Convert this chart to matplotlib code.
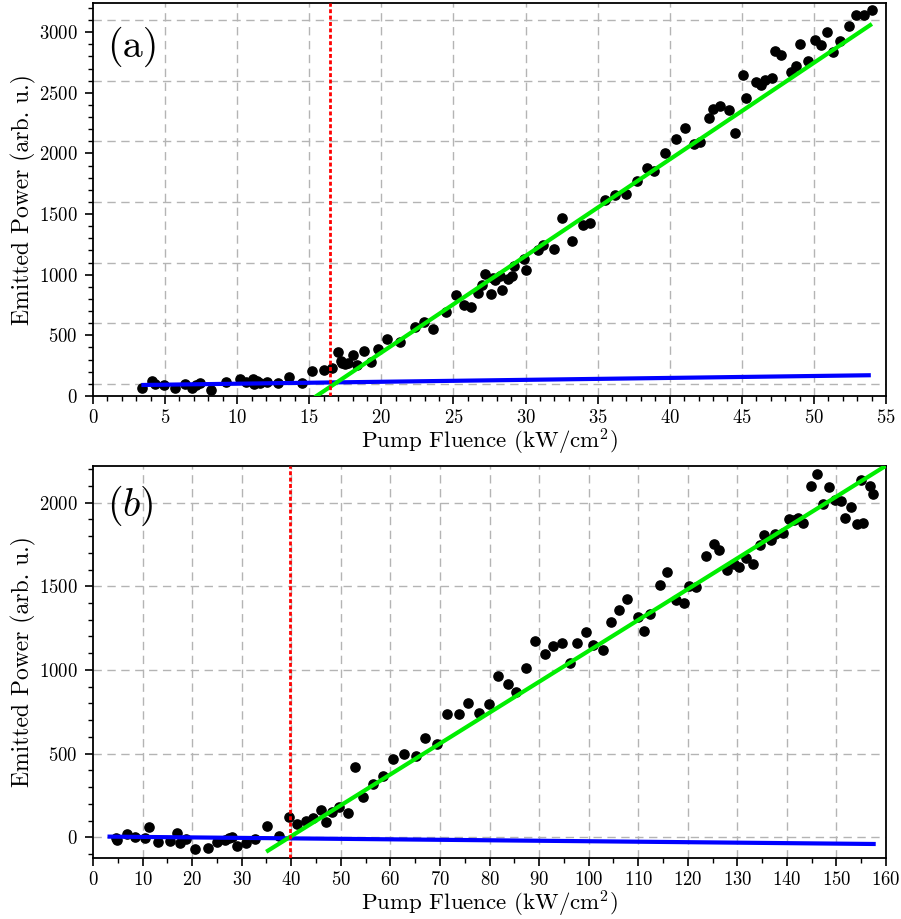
import matplotlib
matplotlib.use('Agg')
import matplotlib.pyplot as plt
from matplotlib.ticker import MultipleLocator

plt.rcParams['font.family'] = 'serif'
plt.rcParams['font.serif'] = ['cmr10']
plt.rcParams['mathtext.fontset'] = 'cm'
plt.rcParams['axes.formatter.use_mathtext'] = True

# panel (a) measured points
a_x = [3.4, 4.1, 4.3, 4.9, 5.7, 6.4, 6.9, 7.15, 7.4, 8.2,
       9.2, 10.2, 10.6, 11.1, 11.2, 11.4, 11.6, 12.1, 12.85, 13.6,
       14.5, 15.2, 16.0, 16.6, 17.0, 17.2, 17.3, 17.5, 17.7, 18.0,
       18.3, 18.8, 19.3, 19.8, 20.4, 21.3, 22.3, 22.95, 23.6, 24.5,
       25.2, 25.7, 26.2, 26.7, 27.0, 27.2, 27.6, 27.75, 27.9, 28.2,
       28.35, 28.8, 29.05, 29.2, 29.9, 30.05, 30.85, 31.2, 32.0, 32.5,
       33.2, 33.95, 34.5, 35.5, 36.2, 37.0, 37.7, 38.45, 38.9, 39.7,
       40.4, 41.05, 41.7, 42.1, 42.75, 43.0, 43.5, 44.1, 44.5, 45.1,
       45.3, 46.0, 46.3, 46.6, 47.1, 47.3, 47.7, 48.4, 48.75, 49.0,
       49.6, 50.05, 50.5, 50.9, 51.3, 51.8, 52.4, 52.9, 53.5, 54.0]
a_y = [66, 123, 96, 90, 66, 99, 66, 90, 107, 49,
       118, 137, 118, 140, 96, 123, 104, 115, 107, 156,
       104, 203, 214, 233, 359, 290, 268, 263, 274, 337,
       252, 375, 277, 386, 466, 444, 567, 614, 553, 696,
       830, 753, 734, 852, 912, 1002, 838, 975, 959, 989,
       873, 961, 989, 1074, 1126, 1038, 1202, 1247, 1214, 1466,
       1274, 1411, 1424, 1616, 1660, 1665, 1775, 1876, 1852, 2003,
       2118, 2206, 2076, 2095, 2292, 2364, 2391, 2361, 2169, 2649,
       2455, 2588, 2564, 2602, 2624, 2843, 2810, 2670, 2720, 2906,
       2761, 2936, 2895, 3002, 2835, 2931, 3049, 3142, 3139, 3183]

# panel (a) fits and threshold
a_below_x = [3.5, 53.8]
a_below_y = [91, 171]
a_above_x = [15.5, 53.9]
a_above_y = [0, 3058]
a_thresh = 16.45

# panel (b) measured points
b_x = [4.7, 4.9, 6.8, 8.4, 10.5, 11.4, 13.2, 15.6, 16.9, 17.6,
       18.8, 20.5, 23.2, 25.1, 26.7, 27.5, 28.1, 29.0, 30.9, 32.7,
       35.1, 37.5, 39.5, 41.2, 42.9, 44.3, 46.0, 47.0, 48.3, 49.7,
       51.5, 52.9, 54.5, 56.4, 58.5, 60.5, 62.7, 65.1, 67.0, 69.5,
       71.4, 73.9, 75.6, 77.8, 79.8, 81.7, 83.7, 85.4, 87.4, 89.2,
       91.1, 92.9, 94.6, 96.2, 97.7, 99.5, 100.9, 102.8, 104.5, 106.1,
       107.7, 110.0, 111.1, 112.4, 114.3, 115.9, 117.6, 119.2, 120.3, 121.7,
       123.7, 125.3, 126.2, 127.9, 129.4, 130.4, 131.7, 133.1, 134.5, 135.3,
       136.7, 137.5, 139.2, 140.4, 141.4, 142.2, 143.3, 144.9, 146.1, 147.3,
       148.4, 149.7, 151.0, 151.8, 152.9, 154.1, 154.9, 155.4, 156.7, 157.3]
b_y = [-2, -16, 18, 2, -6, 62, -28, -22, 24, -34,
       -12, -72, -62, -28, -16, -2, 2, -50, -32, -12,
       68, 8, 124, 81, 97, 114, 163, 93, 150, 183,
       144, 420, 239, 320, 368, 470, 498, 484, 594, 559,
       738, 738, 802, 745, 795, 966, 915, 870, 1010, 1171,
       1097, 1145, 1161, 1040, 1161, 1227, 1150, 1119, 1285, 1358,
       1422, 1319, 1235, 1336, 1506, 1584, 1416, 1399, 1502, 1498,
       1682, 1754, 1719, 1600, 1634, 1618, 1667, 1635, 1745, 1807,
       1775, 1810, 1820, 1904, 1894, 1910, 1880, 2101, 2170, 1990,
       2096, 2018, 2010, 1909, 1972, 1874, 2133, 1877, 2101, 2053]

b_below_x = [3.35, 157.5]
b_below_y = [4, -40]
b_above_x = [35.3, 160]
b_above_y = [-80, 2221]
b_thresh = 39.65

grid_kw = dict(color='#b4b4b4', linestyle=(0, (6, 4)), linewidth=1.0, zorder=0)
thresh_kw = dict(color='red', linestyle=(0, (1.4, 0.9)), linewidth=2.0, zorder=5)

fig = plt.figure(figsize=(9.01, 9.19), dpi=100)
ax1 = fig.add_axes([0.1032, 0.5691, 0.8802, 0.4276])
ax2 = fig.add_axes([0.1032, 0.0667, 0.8802, 0.4266])


def style_axis(ax):
    ax.tick_params(which='major', direction='out', length=6, width=1.2, labelsize=13.5, pad=3.5)
    ax.tick_params(axis='y', which='major', pad=5)
    ax.tick_params(which='minor', direction='out', length=3.5, width=1.0)
    ax.tick_params(top=False, right=False)
    for s in ax.spines.values():
        s.set_linewidth(1.3)
    ax.set_xlabel('Pump Fluence (kW/cm$^2$)', fontsize=16.5, labelpad=0)
    ax.set_ylabel('Emitted Power (arb. u.)', fontsize=17, labelpad=2)


# ---- panel (a)
ax1.scatter(a_x, a_y, s=44, color='black', zorder=3)
ax1.plot(a_below_x, a_below_y, color='#0000ff', linewidth=3, zorder=4)
ax1.plot(a_above_x, a_above_y, color='#00ee00', linewidth=3, zorder=4)
ax1.axvline(a_thresh, **thresh_kw)
ax1.set_xlim(0, 55)
ax1.set_ylim(0, 3240)
ax1.xaxis.set_major_locator(MultipleLocator(5))
ax1.xaxis.set_minor_locator(MultipleLocator(1))
ax1.yaxis.set_major_locator(MultipleLocator(500))
ax1.yaxis.set_minor_locator(MultipleLocator(100))
for gx in range(5, 55, 5):
    ax1.axvline(gx, **grid_kw)
for gy in range(100, 3200, 500):
    ax1.axhline(gy, **grid_kw)
ax1.text(0.018, 0.94, '(a)', transform=ax1.transAxes, fontsize=29,
         ha='left', va='top')
style_axis(ax1)

# ---- panel (b)
ax2.scatter(b_x, b_y, s=44, color='black', zorder=3)
ax2.plot(b_below_x, b_below_y, color='#0000ff', linewidth=3, zorder=4)
ax2.plot(b_above_x, b_above_y, color='#00ee00', linewidth=3, zorder=4)
ax2.axvline(b_thresh, **thresh_kw)
ax2.set_xlim(0, 160)
ax2.set_ylim(-122, 2221)
ax2.xaxis.set_major_locator(MultipleLocator(10))
ax2.xaxis.set_minor_locator(MultipleLocator(5))
ax2.yaxis.set_major_locator(MultipleLocator(500))
ax2.yaxis.set_minor_locator(MultipleLocator(100))
for gx in range(10, 160, 10):
    ax2.axvline(gx, **grid_kw)
for gy in range(0, 2221, 500):
    ax2.axhline(gy, **grid_kw)
ax2.text(0.018, 0.955, '$(b)$', transform=ax2.transAxes, fontsize=29,
         ha='left', va='top')
style_axis(ax2)

fig.savefig('out.png', dpi=100)
